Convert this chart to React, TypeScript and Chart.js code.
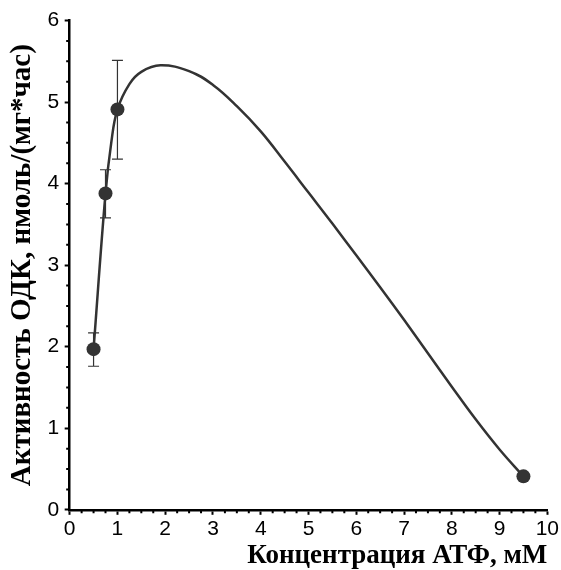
import React, { useEffect, useRef } from "react";
import { Chart, registerables } from "chart.js";

Chart.register(...registerables);

// Measured points (ATP concentration, mM -> ODC activity)
const pointX = [0.5, 0.75, 1.0, 9.5];
const pointY = [1.97, 3.88, 4.91, 0.41];
const errLow = [1.76, 3.58, 4.3, null];
const errHigh = [2.17, 4.17, 5.51, null];

// Fitted curve
const curveX = [0.5, 0.75, 0.87, 1.0, 1.25, 1.5, 1.9, 2.5, 3.0, 3.5, 4.0, 4.5, 5.0, 5.5, 6.0, 6.5, 7.0, 7.5, 8.0, 8.5, 9.0, 9.5];
const curveY = [1.97, 3.88, 4.5, 4.91, 5.22, 5.37, 5.45, 5.38, 5.21, 4.95, 4.64, 4.27, 3.89, 3.51, 3.12, 2.73, 2.33, 1.92, 1.51, 1.11, 0.74, 0.41];

const xMin = 0;
const xMax = 10;
const yMin = 0;
const yMax = 6;
const minorStep = 0.25;

const xTitle = "Концентрация АТФ, мМ";
const yTitle = "Активность ОДК, нмоль/(мг*час)";

const INK = "#333333";

const errorBarPlugin = {
  id: "errorBars",
  beforeDatasetsDraw(chart: any) {
    const ctx = chart.ctx;
    const xs = chart.scales.x;
    const ys = chart.scales.y;
    ctx.save();
    ctx.strokeStyle = INK;
    ctx.lineWidth = 1.2;
    for (let i = 0; i < pointX.length; i++) {
      const lo = errLow[i];
      const hi = errHigh[i];
      if (lo == null || hi == null) continue;
      const px = xs.getPixelForValue(pointX[i]);
      const pLo = ys.getPixelForValue(lo);
      const pHi = ys.getPixelForValue(hi);
      const cap = 5.5;
      ctx.beginPath();
      ctx.moveTo(px, pLo);
      ctx.lineTo(px, pHi);
      ctx.moveTo(px - cap, pLo);
      ctx.lineTo(px + cap, pLo);
      ctx.moveTo(px - cap, pHi);
      ctx.lineTo(px + cap, pHi);
      ctx.stroke();
    }
    ctx.restore();
  },
};

const minorTickPlugin = {
  id: "minorTicks",
  afterDraw(chart: any) {
    const ctx = chart.ctx;
    const xs = chart.scales.x;
    const ys = chart.scales.y;
    const area = chart.chartArea;
    ctx.save();
    ctx.strokeStyle = "#000";
    ctx.lineWidth = 2;
    ctx.beginPath();
    for (let v = xMin; v <= xMax + 1e-9; v += minorStep) {
      if (Math.abs(v - Math.round(v)) < 1e-9) continue;
      const p = xs.getPixelForValue(v);
      ctx.moveTo(p, area.bottom);
      ctx.lineTo(p, area.bottom + 3.5);
    }
    for (let v = yMin; v <= yMax + 1e-9; v += minorStep) {
      if (Math.abs(v - Math.round(v)) < 1e-9) continue;
      const p = ys.getPixelForValue(v);
      ctx.moveTo(area.left, p);
      ctx.lineTo(area.left - 3.5, p);
    }
    ctx.stroke();
    ctx.restore();
  },
};

export default function App() {
  const canvasRef = useRef<HTMLCanvasElement | null>(null);

  useEffect(() => {
    if (!canvasRef.current) return;
    const chart = new Chart(canvasRef.current, {
      type: "scatter",
      data: {
        datasets: [
          {
            label: "fit",
            data: curveX.map((x, i) => ({ x, y: curveY[i] })),
            showLine: true,
            borderColor: INK,
            borderWidth: 2.5,
            pointRadius: 0,
            tension: 0.4,
            order: 2,
          },
          {
            label: "data",
            data: pointX.map((x, i) => ({ x, y: pointY[i] })),
            showLine: false,
            pointRadius: 7,
            pointBackgroundColor: INK,
            pointBorderColor: INK,
            pointBorderWidth: 0,
            order: 1,
          },
        ],
      },
      options: {
        responsive: false,
        animation: false,
        layout: { padding: { top: 20.5, right: 13, left: 0, bottom: 0 } },
        plugins: {
          legend: { display: false },
          tooltip: { enabled: false },
          title: { display: false },
        },
        scales: {
          x: {
            type: "linear",
            min: xMin,
            max: xMax,
            border: { display: true, color: "#000", width: 2.5 },
            grid: {
              display: true,
              drawOnChartArea: false,
              drawTicks: true,
              tickLength: 5,
              tickWidth: 2,
              tickColor: "#000",
            },
            ticks: {
              stepSize: 1,
              color: "#000",
              padding: 2,
              maxRotation: 0,
              font: { family: "'Liberation Sans', Arial, sans-serif", size: 21, lineHeight: 1.2 },
            },
            title: {
              display: true,
              text: xTitle,
              align: "end",
              color: "#000",
              padding: { top: -1, bottom: 0 },
              font: { family: "'Liberation Serif', 'Times New Roman', serif", size: 27, weight: "bold", lineHeight: 1 },
            },
          },
          y: {
            type: "linear",
            min: yMin,
            max: yMax,
            border: { display: true, color: "#000", width: 2.5 },
            grid: {
              display: true,
              drawOnChartArea: false,
              drawTicks: true,
              tickLength: 5,
              tickWidth: 2,
              tickColor: "#000",
            },
            ticks: {
              stepSize: 1,
              color: "#000",
              padding: 5.5,
              font: { family: "'Liberation Sans', Arial, sans-serif", size: 21, lineHeight: 1.2 },
            },
            title: {
              display: true,
              text: yTitle,
              color: "#000",
              padding: { top: 8, bottom: 5 },
              font: { family: "'Liberation Serif', 'Times New Roman', serif", size: 29, weight: "bold", lineHeight: 1 },
            },
          },
        },
      },
      plugins: [errorBarPlugin, minorTickPlugin],
    });
    return () => chart.destroy();
  }, []);

  return (
    <div style={{ position: "fixed", left: 0, top: 0, width: 561, height: 570, background: "#fff" }}>
      <canvas ref={canvasRef} width={561} height={570} style={{ display: "block" }} />
    </div>
  );
}
